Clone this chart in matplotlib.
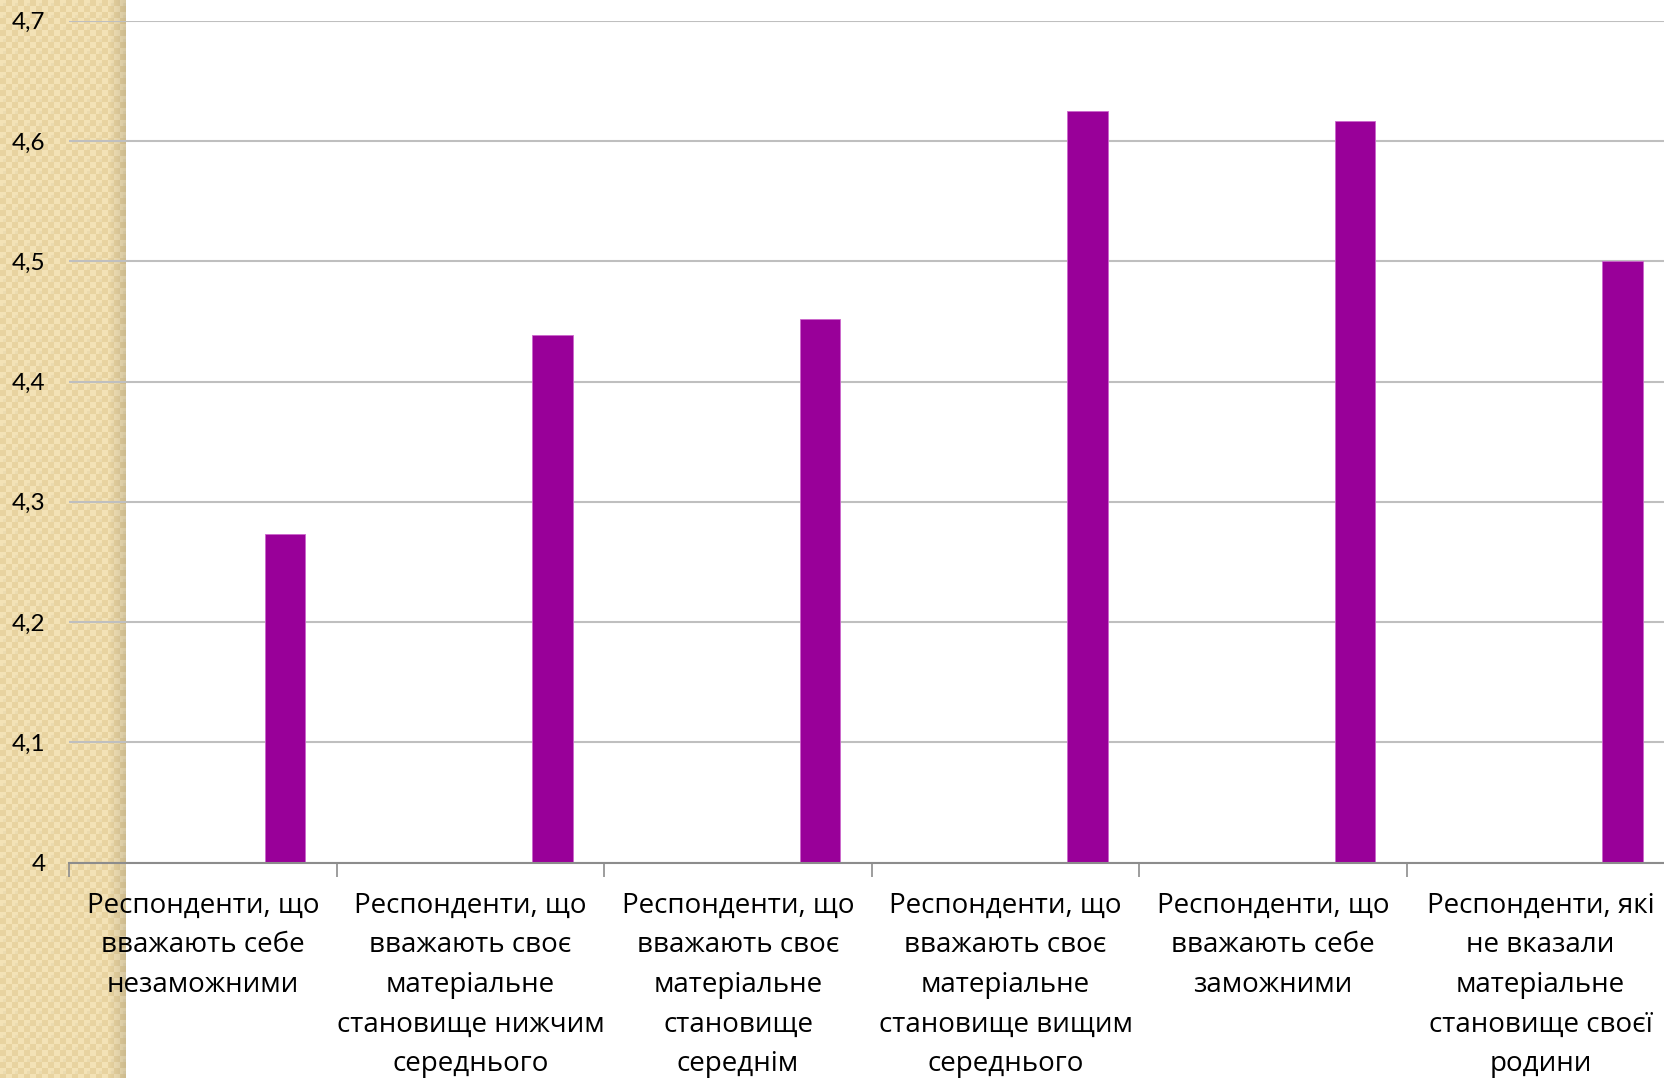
import numpy as np
import matplotlib
matplotlib.use("Agg")
import matplotlib.pyplot as plt

# data
categories = [
    "Респонденти, що\nвважають себе\nнезаможними",
    "Респонденти, що\nвважають своє\nматеріальне\nстановище нижчим\nсереднього",
    "Респонденти, що\nвважають своє\nматеріальне\nстановище\nсереднім",
    "Респонденти, що\nвважають своє\nматеріальне\nстановище вищим\nсереднього",
    "Респонденти, що\nвважають себе\nзаможними",
    "Респонденти, які\nне вказали\nматеріальне\nстановище своєї\nродини",
]
values = [4.273, 4.439, 4.452, 4.625, 4.617, 4.500]
yticks = [4.0, 4.1, 4.2, 4.3, 4.4, 4.5, 4.6, 4.7]
ytick_labels = ["4", "4,1", "4,2", "4,3", "4,4", "4,5", "4,6", "4,7"]

W, H = 1664, 1078
fig = plt.figure(figsize=(W / 100, H / 100), dpi=100)
fig.patch.set_facecolor("white")

# beige textured strip on the left
strip_w = 126
bg = fig.add_axes([0, 0, strip_w / W, 1])
yy, xx = np.mgrid[0:H, 0:strip_w]
base = np.array([243, 226, 182]) / 255.0
dark = np.array([232, 211, 160]) / 255.0
cell = ((xx // 6) + (yy // 6)) % 2
inner = (((xx % 12) >= 3) & ((xx % 12) < 6) & ((yy % 12) >= 3) & ((yy % 12) < 6))
img = np.where(cell[..., None] == 1, dark, base)
img = np.where(inner[..., None], base * 0.97, img)
shade = np.clip((xx - 108) / 18.0, 0, 1)[..., None]
img = img * (1 - 0.12 * shade)
bg.imshow(img, aspect="auto", interpolation="nearest")
bg.set_axis_off()

# main chart
left = 69.3 / W
bottom = (H - 862.7) / H
top = (H - 20.7) / H
slot = 267.5 / W
ax = fig.add_axes([left, bottom, slot * 6, top - bottom])
ax.patch.set_alpha(0)

x = np.arange(len(values))
bar_offset = 0.306
ax.bar(x + bar_offset, [v - 4 for v in values], bottom=4, width=0.152,
       color="#990099", edgecolor="#cc66cc", linewidth=0.6, zorder=3)

ax.set_xlim(-0.5, len(values) - 0.5)
ax.set_ylim(4.0, 4.7)
ax.set_yticks(yticks)
ax.set_yticklabels(ytick_labels, fontsize=17.5, family="Lato")
ax.yaxis.grid(True, color="#bfbfbf", linewidth=1.5, zorder=0)
ax.tick_params(axis="y", length=0, pad=17)

ax.set_xticks(x)
ax.set_xticklabels(categories, fontsize=20, family="Open Sans", linespacing=1.55)
ax.set_xticks(np.arange(len(values) + 1) - 0.5, minor=True)
ax.tick_params(axis="x", which="major", length=0, pad=21)
ax.tick_params(axis="x", which="minor", length=10, width=1.2, color="#8c8c8c")

for s in ["left", "right", "top"]:
    ax.spines[s].set_visible(False)
ax.spines["bottom"].set_color("#8c8c8c")
ax.spines["bottom"].set_linewidth(1.5)
ax.spines["bottom"].set_zorder(4)

fig.savefig("out.png", dpi=100)
